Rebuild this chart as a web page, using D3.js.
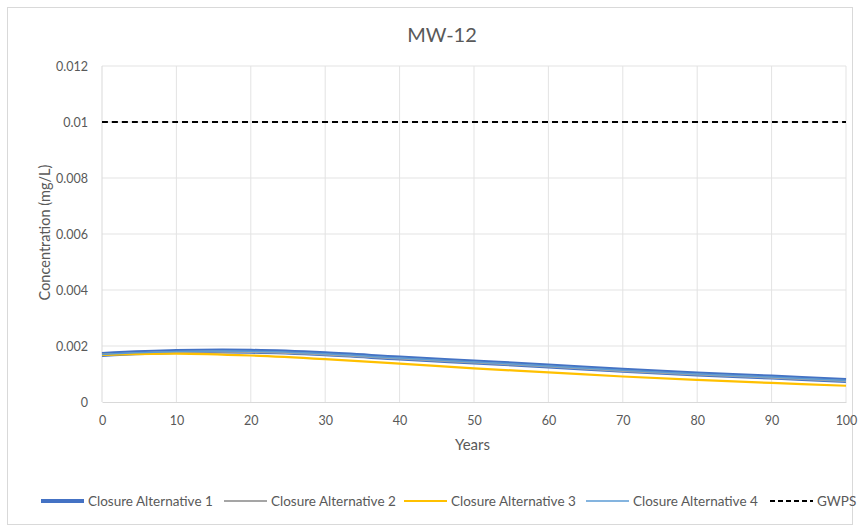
<!DOCTYPE html>
<html><head><meta charset="utf-8">
<script src="https://cdn.jsdelivr.net/npm/d3@7"></script>
<style>body{margin:0;background:#fff;}text{font-family:Lato, "Open Sans", sans-serif;}</style>
</head><body>
<svg id="c" width="858" height="531"></svg>
<script>
const years = [0,10,20,30,40,50,60,70,80,90,100];
const alt1 = [0.00170,0.00180,0.00181,0.00172,0.00157,0.00143,0.00129,0.00113,0.00100,0.00089,0.00077];
const alt2 = [0.00169,0.00179,0.00179,0.00170,0.00155,0.00141,0.00127,0.00111,0.00098,0.00087,0.00075];
const alt3 = [0.00168,0.00173,0.00166,0.00153,0.00137,0.00120,0.00106,0.00091,0.00079,0.00068,0.00058];
const alt4 = [0.00170,0.00180,0.00181,0.00172,0.00157,0.00143,0.00129,0.00113,0.00100,0.00089,0.00077];
const gwps = [0.01,0.01,0.01,0.01,0.01,0.01,0.01,0.01,0.01,0.01,0.01];
const yTicks = [0,0.002,0.004,0.006,0.008,0.01,0.012];
const yTickLabels = ["0","0.002","0.004","0.006","0.008","0.01","0.012"];
const xTicks = [0,10,20,30,40,50,60,70,80,90,100];
const seriesNames = ["Closure Alternative 1","Closure Alternative 2","Closure Alternative 3","Closure Alternative 4","GWPS"];

const svg = d3.select("#c");
svg.append("rect").attr("x",7.5).attr("y",7.5).attr("width",845).attr("height",517)
  .attr("fill","#fff").attr("stroke","#d9d9d9");

const x = d3.scaleLinear().domain([0,100]).range([102,846]);
const y = d3.scaleLinear().domain([0,0.012]).range([402,66]);

// gridlines
svg.append("g").selectAll("line").data(yTicks.slice(1)).join("line")
  .attr("x1",x(0)).attr("x2",x(100)).attr("y1",d=>y(d)).attr("y2",d=>y(d))
  .attr("stroke","#e3e3e3").attr("stroke-width",1);
svg.append("g").selectAll("line").data(xTicks.slice(1)).join("line")
  .attr("x1",d=>x(d)).attr("x2",d=>x(d)).attr("y1",y(0)).attr("y2",y(0.012))
  .attr("stroke","#e3e3e3").attr("stroke-width",1);
svg.append("line").attr("x1",x(0)).attr("x2",x(0)).attr("y1",y(0)).attr("y2",y(0.012)).attr("stroke","#d9d9d9");

// axes
const xAxis = d3.axisBottom(x).tickValues(xTicks).tickSize(0).tickPadding(14);
const gx = svg.append("g").attr("transform",`translate(0,${y(0)})`).call(xAxis);
gx.select(".domain").attr("stroke","#d9d9d9");
gx.selectAll("text").attr("fill","#595959").attr("font-size","12.5px");
const yAxis = d3.axisLeft(y).tickValues(yTicks).tickFormat((d,i)=>yTickLabels[i]).tickSize(0).tickPadding(14);
const gy = svg.append("g").attr("transform",`translate(${x(0)},0)`).call(yAxis);
gy.select(".domain").remove();
gy.selectAll("text").attr("fill","#595959").attr("font-size","12.5px");

// titles
svg.append("text").attr("x",442).attr("y",42).attr("text-anchor","middle")
  .attr("font-size","20px").attr("fill","#595959").text("MW-12");
svg.append("text").attr("x",472.5).attr("y",450).attr("text-anchor","middle")
  .attr("font-size","15px").attr("fill","#595959").text("Years");
svg.append("text").attr("transform","translate(50,232.5) rotate(-90)").attr("text-anchor","middle")
  .attr("font-size","14.5px").attr("fill","#595959").text("Concentration (mg/L)");

const line = d3.line().x((d,i)=>x(years[i])).y(d=>y(d)).curve(d3.curveCatmullRom);
const styles = [
  {data:alt1,color:"#4472C4",w:5,dash:null},
  {data:alt2,color:"#A5A5A5",w:2,dash:null},
  {data:alt3,color:"#FFC000",w:2.2,dash:null},
  {data:alt4,color:"#5B9BD5",w:1.5,dash:null},
  {data:gwps,color:"#000000",w:2,dash:"6,4"}
];
styles.forEach(s=>{
  svg.append("path").attr("d",line(s.data)).attr("fill","none")
    .attr("stroke",s.color).attr("stroke-width",s.w).attr("stroke-dasharray",s.dash);
});

// legend
const legX = [41,224,404,586,770];
const lg = svg.append("g");
styles.forEach((s,i)=>{
  lg.append("line").attr("x1",legX[i]).attr("x2",legX[i]+43).attr("y1",501).attr("y2",501)
    .attr("stroke",s.color).attr("stroke-width",s.w===5?4:s.w).attr("stroke-dasharray",s.dash?"5,3":null);
  lg.append("text").attr("x",legX[i]+47).attr("y",505.5).attr("font-size","13.5px").attr("fill","#595959").text(seriesNames[i]);
});
</script>
</body></html>
